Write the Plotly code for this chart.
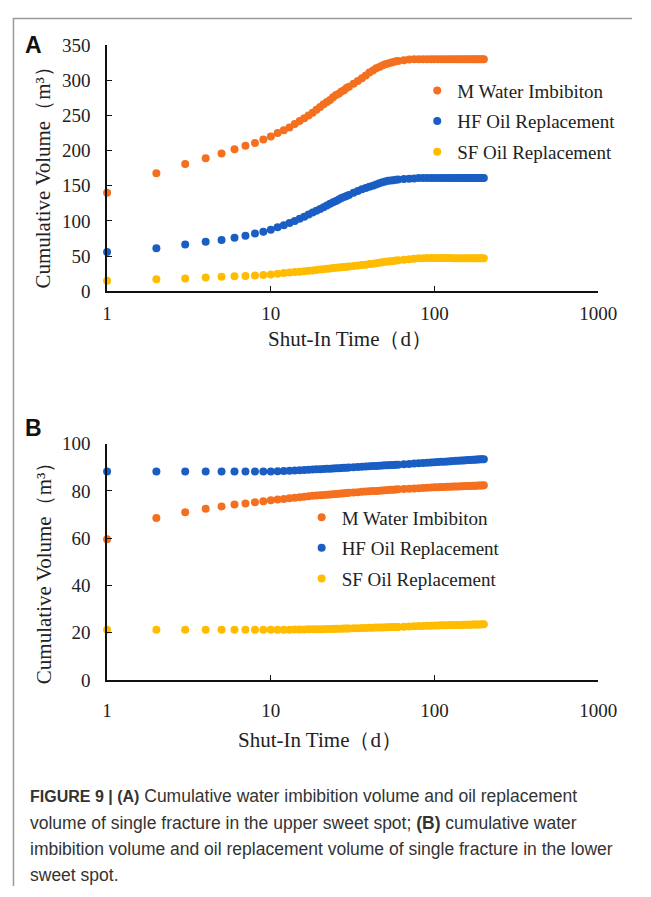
import plotly.graph_objects as go

W, H = 651, 897

# ---------------- data ----------------
DAYS = [1, 2, 3, 4, 5, 6, 7, 8, 9, 10,
        11, 12, 13, 14, 15, 16, 17, 18, 19, 20,
        21, 22, 23, 24, 25, 26, 27, 28, 29, 30,
        32, 34, 36, 38, 40, 42, 44, 46, 48, 50,
        52, 54, 56, 58, 60,
        65, 70, 75, 80, 85, 90, 95, 100,
        105, 110, 115, 120, 125, 130, 135, 140,
        145, 150, 155, 160, 165, 170, 175, 180,
        185, 190, 195, 200]

SERIES_NAMES = ["M Water Imbibiton", "HF Oil Replacement", "SF Oil Replacement"]

# Panel A (upper sweet spot)
A_M_WATER = [140, 168, 181, 189, 196, 202, 207, 211, 216, 220,
             225, 229, 233, 238, 242, 246, 250, 254, 258, 262,
             266, 269, 272, 276, 279, 281, 284, 286, 289, 291,
             295, 299, 303, 307, 311, 314, 317, 319, 321, 323,
             324, 325, 326, 327, 327.5,
             328.5, 329.5, 330, 330, 330, 330, 330, 330,
             330, 330, 330, 330, 330, 330, 330, 330,
             330, 330, 330, 330, 330, 330, 330, 330,
             330, 330, 330, 330]
A_HF_OIL = [56, 61, 66.5, 70.5, 73, 76, 79, 82, 84.5, 87.5,
            91, 94, 97, 100, 103, 106, 109, 112, 114.5, 117,
            119.5, 122, 124.5, 126.5, 128.5, 130.5, 132.5, 134, 135.5, 137,
            140, 142.5, 145, 147, 148.5, 150, 152, 153.5, 155, 156,
            157, 157.5, 158, 158.5, 159,
            159.5, 160, 160.5, 161, 161, 161, 161, 161,
            161, 161, 161, 161, 161, 161, 161, 161,
            161, 161, 161, 161, 161, 161, 161, 161,
            161, 161, 161, 161]
A_SF_OIL = [15, 17, 18, 19.5, 20.5, 21.3, 21.8, 22.5, 23.3, 24,
            25, 25.8, 26.6, 27.3, 27.9, 28.5, 29.1, 29.6, 30.2, 30.8,
            31.4, 31.9, 32.5, 33, 33.4, 33.8, 34.2, 34.6, 35, 35.3,
            36, 36.6, 37.2, 37.8, 38.6, 39.2, 39.9, 40.6, 41.2, 41.8,
            42.3, 42.8, 43.2, 43.6, 44,
            44.9, 45.7, 46.3, 46.8, 47.1, 47.3, 47.4, 47.4,
            47.4, 47.3, 47.3, 47.2, 47.2, 47.1, 47.1, 47.0,
            47, 47, 47, 47, 47, 47, 47, 47,
            47, 47, 47, 47]

# Panel B (lower sweet spot)
B_M_WATER = [59.5, 68.5, 71, 72.4, 73.4, 74.2, 74.7, 75.2, 75.6, 76.0,
             76.3, 76.6, 76.9, 77.1, 77.3, 77.5, 77.7, 77.9, 78.0, 78.2,
             78.3, 78.4, 78.5, 78.6, 78.7, 78.8, 78.9, 79.0, 79.1, 79.2,
             79.3, 79.45, 79.6, 79.7, 79.8, 79.9, 80.0, 80.1, 80.2, 80.3,
             80.35, 80.45, 80.5, 80.6, 80.65,
             80.8, 80.95, 81.05, 81.15, 81.25, 81.35, 81.45, 81.5,
             81.55, 81.6, 81.65, 81.7, 81.75, 81.8, 81.85, 81.9,
             81.95, 82.0, 82.05, 82.1, 82.1, 82.15, 82.2, 82.2,
             82.25, 82.3, 82.3, 82.35]
B_HF_OIL = [88.2, 88.2, 88.2, 88.2, 88.2, 88.2, 88.2, 88.2, 88.2, 88.2,
            88.3, 88.4, 88.5, 88.6, 88.7, 88.8, 88.9, 89.0, 89.1, 89.2,
            89.3, 89.35, 89.4, 89.5, 89.55, 89.6, 89.7, 89.75, 89.8, 89.9,
            90.0, 90.1, 90.2, 90.3, 90.4, 90.5, 90.55, 90.6, 90.7, 90.8,
            90.85, 90.9, 91.0, 91.05, 91.1,
            91.25, 91.4, 91.55, 91.7, 91.8, 91.9, 92.0, 92.1,
            92.2, 92.3, 92.35, 92.45, 92.5, 92.6, 92.7, 92.75,
            92.85, 92.9, 93.0, 93.05, 93.1, 93.15, 93.2, 93.25,
            93.3, 93.35, 93.4, 93.4]
B_SF_OIL = [21.2, 21.2, 21.2, 21.2, 21.2, 21.2, 21.2, 21.2, 21.2, 21.2,
            21.2, 21.2, 21.25, 21.3, 21.3, 21.35, 21.4, 21.4, 21.45, 21.5,
            21.5, 21.55, 21.6, 21.6, 21.65, 21.7, 21.7, 21.75, 21.8, 21.8,
            21.85, 21.9, 21.95, 22.0, 22.05, 22.1, 22.15, 22.2, 22.2, 22.25,
            22.3, 22.35, 22.4, 22.4, 22.45,
            22.55, 22.65, 22.7, 22.8, 22.85, 22.9, 22.95, 23.0,
            23.05, 23.1, 23.1, 23.15, 23.2, 23.2, 23.25, 23.3,
            23.3, 23.35, 23.35, 23.4, 23.4, 23.45, 23.45, 23.5,
            23.5, 23.5, 23.55, 23.55]

X_TICKS = [1, 10, 100, 1000]
X_TICK_TEXT = ["1", "10", "100", "1000"]
A_Y_TICKS = [0, 50, 100, 150, 200, 250, 300, 350]
B_Y_TICKS = [0, 20, 40, 60, 80, 100]

COLORS = ["#F4701F", "#1A5EC4", "#FFBC00"]

SERIF = "Liberation Serif, Times New Roman, serif"
SANS = "Liberation Sans, Arial, sans-serif"


def px(x):
    return x / W


def py(y):
    return 1 - y / H


fig = go.Figure()

for vals, name, col in zip([A_M_WATER, A_HF_OIL, A_SF_OIL], SERIES_NAMES, COLORS):
    fig.add_trace(go.Scatter(
        x=DAYS, y=vals, mode="markers", name=name,
        marker=dict(color=col, size=8, line=dict(width=0)),
        xaxis="x", yaxis="y", legend="legend", legendgroup="A" + name,
        cliponaxis=False))

for vals, name, col in zip([B_M_WATER, B_HF_OIL, B_SF_OIL], SERIES_NAMES, COLORS):
    fig.add_trace(go.Scatter(
        x=DAYS, y=vals, mode="markers", name=name,
        marker=dict(color=col, size=8, line=dict(width=0)),
        xaxis="x2", yaxis="y2", legend="legend2", legendgroup="B" + name,
        cliponaxis=False))

xdom = [px(106), px(616)]

common_x = dict(type="log", range=[0, 3], tickvals=X_TICKS, ticktext=X_TICK_TEXT,
                showline=True, linecolor="#111", linewidth=1.6, ticks="inside",
                ticklen=5, tickwidth=1.4, tickcolor="#111", showgrid=False, zeroline=False,
                tickfont=dict(family=SERIF, size=19, color="#222"), domain=xdom)
common_y = dict(showline=True, linecolor="#111", linewidth=1.6, ticks="inside",
                ticklen=5, tickwidth=1.4, tickcolor="#111", showgrid=False, zeroline=False,
                tickfont=dict(family=SERIF, size=19, color="#222"), ticklabelstandoff=11)

legend_common = dict(font=dict(family=SERIF, size=19, color="#222"),
                     bgcolor="rgba(0,0,0,0)", borderwidth=0, xanchor="left", yanchor="top",
                     traceorder="grouped", tracegroupgap=3, itemsizing="trace")

fig.update_layout(
    width=W, height=H, margin=dict(l=0, r=0, t=0, b=0),
    paper_bgcolor="white", plot_bgcolor="white",
    xaxis=dict(**common_x, anchor="y", ticklabelstandoff=4),
    yaxis=dict(**common_y, range=[0, 350], tickvals=A_Y_TICKS, anchor="x",
               domain=[py(288), py(36)]),
    xaxis2=dict(**common_x, anchor="y2", ticklabelstandoff=12),
    yaxis2=dict(**common_y, range=[0, 100], tickvals=B_Y_TICKS, anchor="x2",
                domain=[py(686), py(444)]),
    legend=dict(**legend_common, x=px(428), y=py(63)),
    legend2=dict(**legend_common, x=px(308), y=py(500)),
    showlegend=True,
)

ann = []
# panel letters
ann.append(dict(text="<b>A</b>", x=px(30), y=py(36), font=dict(family=SANS, size=23, color="#111")))
ann.append(dict(text="<b>B</b>", x=px(30), y=py(428), font=dict(family=SANS, size=23, color="#111")))
# axis titles
ann.append(dict(text="Cumulative Volume（m³）", x=px(40), y=py(167), textangle=-90,
                font=dict(family=SERIF, size=21, color="#222")))
ann.append(dict(text="Shut-In Time（d）", x=px(358), y=py(337),
                font=dict(family=SERIF, size=21, color="#222")))
ann.append(dict(text="Cumulative Volume（m³）", x=px(40), y=py(572), textangle=-90,
                font=dict(family=SERIF, size=21, color="#222")))
ann.append(dict(text="Shut-In Time（d）", x=px(327), y=py(747),
                font=dict(family=SERIF, size=21, color="#222")))

# caption
CAPTION_LINES = [
    "<span style='font-size:16px'><b>FIGURE 9 | (A)</b></span> Cumulative water imbibition volume and oil replacement",
    "volume of single fracture in the upper sweet spot; <b>(B)</b> cumulative water",
    "imbibition volume and oil replacement volume of single fracture in the lower",
    "sweet spot.",
]
for i, line in enumerate(CAPTION_LINES):
    ann.append(dict(text=line, x=px(24), y=py(805 + 27 * i), xanchor="left",
                    font=dict(family=SANS, size=17.5, color="#333")))

for a in ann:
    a.setdefault("xanchor", "center")
    a.update(xref="paper", yref="paper", yanchor="middle", showarrow=False)
fig.update_layout(annotations=ann)

# frame lines along the top and left edge
fig.update_layout(shapes=[
    dict(type="line", xref="paper", yref="paper", x0=px(8), x1=1, y0=py(8.8), y1=py(8.8),
         line=dict(color="#999", width=1.5)),
    dict(type="line", xref="paper", yref="paper", x0=px(8.8), x1=px(8.8), y0=py(8.8), y1=0,
         line=dict(color="#999", width=1.5)),
])

fig.write_html("out.html")
